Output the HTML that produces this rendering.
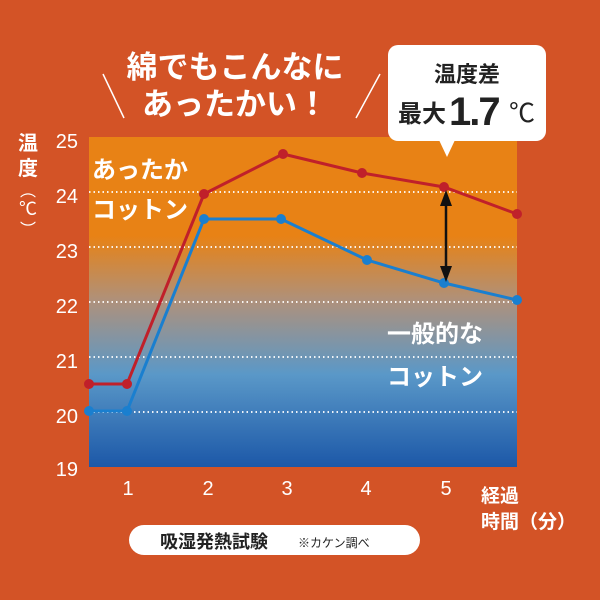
<!DOCTYPE html>
<html><head><meta charset="utf-8"><style>
html,body{margin:0;padding:0;background:#d35326;}
svg{display:block}
text{font-family:"Liberation Sans","Noto Sans CJK JP",sans-serif;}
</style></head><body>
<svg width="600" height="600" viewBox="0 0 600 600" xmlns="http://www.w3.org/2000/svg">
<defs>
<linearGradient id="g" x1="0" y1="0" x2="0" y2="1">
<stop offset="0" stop-color="#e88215"/>
<stop offset="0.3" stop-color="#e88215"/>
<stop offset="0.5" stop-color="#ad917d"/>
<stop offset="0.72" stop-color="#5a98c8"/>
<stop offset="1" stop-color="#1c58a8"/>
</linearGradient>
</defs>
<rect width="600" height="600" fill="#d35326"/>
<rect x="89" y="137" width="428" height="330" fill="url(#g)"/>
<g stroke="#fff" stroke-width="2" stroke-dasharray="1.5 3" opacity="0.9">
<line x1="89" y1="192" x2="517" y2="192"/>
<line x1="89" y1="247" x2="517" y2="247"/>
<line x1="89" y1="302" x2="517" y2="302"/>
<line x1="89" y1="357" x2="517" y2="357"/>
<line x1="89" y1="412" x2="517" y2="412"/>
</g>
<g fill="#fff" font-weight="bold" font-size="31" text-anchor="middle">
<text x="235" y="78">綿でもこんなに</text>
<text x="235" y="115">あったかい！</text>
</g>
<line x1="103" y1="74" x2="124" y2="118" stroke="#fff" stroke-width="1.5"/>
<line x1="380" y1="74" x2="356" y2="118" stroke="#fff" stroke-width="1.5"/>
<rect x="388" y="45" width="158" height="96" rx="10" fill="#fff"/>
<polygon points="439,140 455,140 447,157" fill="#fff"/>
<text x="467" y="82" font-size="22" font-weight="bold" fill="#222" text-anchor="middle">温度差</text>
<text x="398" y="122" font-size="24" font-weight="bold" fill="#222">最大</text>
<text x="449" y="125" font-size="40" font-weight="bold" fill="#222" letter-spacing="-2">1.7</text>
<text x="509" y="122" font-size="26" fill="#222">℃</text>
<g fill="#fff" font-size="20" text-anchor="end">
<text x="78" y="148">25</text><text x="78" y="203">24</text><text x="78" y="258">23</text>
<text x="78" y="313">22</text><text x="78" y="368">21</text><text x="78" y="423">20</text><text x="78" y="476">19</text>
</g>
<g fill="#fff" font-size="20" font-weight="bold" text-anchor="middle">
<text x="28" y="150">温</text><text x="28" y="175">度</text>
<text x="28" y="196" font-size="16" font-weight="normal">︵</text>
<text x="28" y="215" font-size="18" font-weight="normal">℃</text>
<text x="28" y="235" font-size="16" font-weight="normal">︶</text>
</g>
<g fill="#fff" font-size="20" text-anchor="middle">
<text x="128" y="495">1</text><text x="208" y="495">2</text><text x="287" y="495">3</text>
<text x="366" y="495">4</text><text x="446" y="495">5</text>
</g>
<g fill="#fff" font-size="19" font-weight="bold">
<text x="481" y="502">経過</text>
<text x="481" y="528">時間（分）</text>
</g>
<g fill="#fff" font-size="24" font-weight="bold">
<text x="92" y="178">あったか</text>
<text x="92" y="218">コットン</text>
<text x="387" y="342">一般的な</text>
<text x="387" y="385">コットン</text>
</g>
<polyline points="89,384 127,384 204,194 283,154 362,173 444,187 517,214" fill="none" stroke="#c0202a" stroke-width="3"/>
<polyline points="89,411 127,411 204,219 281,219 367,260 444,283 517,300" fill="none" stroke="#1a7fcf" stroke-width="3"/>
<g fill="#c0202a">
<circle cx="89" cy="384" r="5"/><circle cx="127" cy="384" r="5"/><circle cx="204" cy="194" r="5"/>
<circle cx="283" cy="154" r="5"/><circle cx="362" cy="173" r="5"/><circle cx="444" cy="187" r="5"/><circle cx="517" cy="214" r="5"/>
</g>
<g fill="#1a7fcf">
<circle cx="89" cy="411" r="5"/><circle cx="127" cy="411" r="5"/><circle cx="204" cy="219" r="5"/>
<circle cx="281" cy="219" r="5"/><circle cx="367" cy="260" r="5"/><circle cx="444" cy="283" r="5"/><circle cx="517" cy="300" r="5"/>
</g>
<line x1="446" y1="200" x2="446" y2="272" stroke="#111" stroke-width="2.5"/>
<polygon points="446,190 440,206 452,206" fill="#111"/>
<polygon points="446,282 440,266 452,266" fill="#111"/>
<rect x="129" y="525" width="291" height="30" rx="15" fill="#fff"/>
<text x="160" y="548" font-size="18" font-weight="bold" fill="#222">吸湿発熱試験</text>
<text x="298" y="547" font-size="12" fill="#222">※カケン調べ</text>
</svg>
</body></html>
